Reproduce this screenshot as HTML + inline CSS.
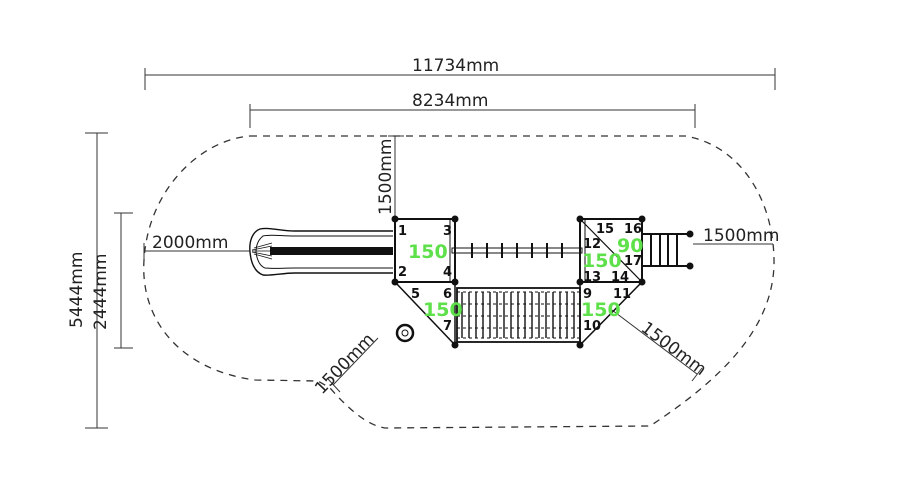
<!DOCTYPE html>
<html><head><style>html,body{margin:0;padding:0;background:#fff}svg{display:block}text{font-family:"DejaVu Sans","Liberation Sans",sans-serif}</style></head>
<body>
<svg width="900" height="500" viewBox="0 0 900 500" xmlns="http://www.w3.org/2000/svg">
<g stroke="#333" stroke-width="1" fill="none">
<line x1="145" y1="75" x2="775" y2="75"/><line x1="145" y1="68" x2="145" y2="90"/><line x1="775" y1="68" x2="775" y2="90"/>
<line x1="250" y1="110" x2="695" y2="110"/><line x1="250" y1="104" x2="250" y2="128"/><line x1="695" y1="104" x2="695" y2="128"/>
<line x1="85" y1="133" x2="108" y2="133"/><line x1="85" y1="428" x2="108" y2="428"/><line x1="97" y1="133" x2="97" y2="428"/>
<line x1="114" y1="213" x2="133" y2="213"/><line x1="114" y1="348" x2="133" y2="348"/><line x1="121" y1="213" x2="121" y2="348"/>
<line x1="395" y1="136" x2="395" y2="218"/><line x1="388" y1="136" x2="404" y2="136"/>
<line x1="144" y1="251" x2="250" y2="251"/><line x1="144" y1="243" x2="144" y2="262"/>
<line x1="693" y1="244" x2="773" y2="244"/>
<line x1="378" y1="338" x2="333" y2="385"/><line x1="328" y1="379" x2="340" y2="392"/>
<line x1="612" y1="310" x2="697" y2="374"/><line x1="692" y1="381" x2="702" y2="368"/>
</g>
<path d="M250 136 L685 136 C740 145 775 200 774 265 C772 330 720 380 650 426 L385 428 C365 425 345 405 330 388 L318 381 L255 380 C180 370 140 320 144 260 C148 190 200 140 250 136 Z" fill="none" stroke="#333" stroke-width="1.3" stroke-dasharray="7,6"/>
<g stroke="#111" fill="none">
<path d="M393 231 L295 231 C280 231 270 227 260 229 C252 232 249 242 250 252 C251 263 255 272 263 275 C272 276 282 273 295 273 L393 273" stroke-width="1.4"/>
<path d="M393 236 L295 236 C280 236 270 234 263 236 C258 240 256 246 256 252 C257 260 260 266 265 268 C275 269 283 268 295 268 L393 268" stroke-width="1"/>
<rect x="270" y="247" width="123" height="8" fill="#111" stroke="none"/>
<path d="M252 250 L272 246 M252 252 L272 256 M252 251 L272 251 M254 248 L272 243 M254 254 L272 259" stroke-width="0.8"/>
<rect x="395" y="219" width="60" height="63" stroke-width="2"/>
<rect x="580" y="219" width="62" height="63" stroke-width="2"/>
<line x1="582" y1="221" x2="642" y2="282" stroke-width="1.2"/>
<line x1="585" y1="219" x2="585" y2="282" stroke-width="1"/>
<line x1="450" y1="219" x2="450" y2="282" stroke-width="1"/>
<path d="M395 282 L455 282 L455 345 Z" stroke-width="1.5"/>
<path d="M580 282 L642 282 L580 345 Z" stroke-width="1.5"/>
<rect x="452" y="248" width="130" height="5" stroke-width="1"/>
<g stroke-width="2"><line x1="472" y1="243" x2="472" y2="258"/><line x1="487" y1="243" x2="487" y2="258"/><line x1="502" y1="243" x2="502" y2="258"/><line x1="517" y1="243" x2="517" y2="258"/><line x1="532" y1="243" x2="532" y2="258"/><line x1="547" y1="243" x2="547" y2="258"/><line x1="562" y1="243" x2="562" y2="258"/></g>
<rect x="457" y="288" width="123" height="54" stroke-width="1.8"/>
<path d="M462 292v46M469 292v46M476 292v46M483 292v46M490 292v46M497 292v46M504 292v46M511 292v46M518 292v46M525 292v46M532 292v46M539 292v46M546 292v46M553 292v46M560 292v46M567 292v46M574 292v46" stroke-width="1.4"/>
<path d="M457 292H580M457 304H580M457 316H580M457 328H580M457 338H580" stroke-width="1" stroke-dasharray="3,3"/>
<path d="M642 234 L690 234 M642 266 L690 266 M651 234V266 M660 234V266 M668 234V266 M677 234V266" stroke-width="2"/>
<circle cx="405" cy="333" r="8" stroke-width="2.5"/><circle cx="405" cy="333" r="3" stroke-width="1"/>
</g>
<g fill="#111">
<circle cx="395" cy="219" r="3.5"/><circle cx="455" cy="219" r="3.5"/><circle cx="395" cy="282" r="3.5"/><circle cx="455" cy="282" r="3.5"/><circle cx="455" cy="345" r="3.5"/>
<circle cx="580" cy="219" r="3.5"/><circle cx="642" cy="219" r="3.5"/><circle cx="580" cy="282" r="3.5"/><circle cx="642" cy="282" r="3.5"/><circle cx="580" cy="345" r="3.5"/>
<circle cx="690" cy="234" r="3.5"/><circle cx="690" cy="266" r="3.5"/>
</g>
<g font-size="17" fill="#222">
<text x="412" y="71">11734mm</text>
<text x="412" y="106">8234mm</text>
<text x="152" y="248">2000mm</text>
<text x="703" y="241">1500mm</text>
<text transform="translate(82 328) rotate(-90)">5444mm</text>
<text transform="translate(106 330) rotate(-90)">2444mm</text>
<text transform="translate(391 215) rotate(-90)">1500mm</text>
<text transform="translate(322 395) rotate(-46)">1500mm</text>
<text transform="translate(640 330) rotate(37)">1500mm</text>
</g>
<g font-size="13" font-weight="bold" fill="#111" font-family="Liberation Sans,sans-serif">
<text x="398" y="235">1</text><text x="443" y="235">3</text><text x="398" y="276">2</text><text x="443" y="276">4</text>
<text x="411" y="298">5</text><text x="443" y="298">6</text><text x="443" y="330">7</text>
<text x="583" y="298">9</text><text x="613" y="298">11</text><text x="583" y="330">10</text>
<text x="596" y="233">15</text><text x="624" y="233">16</text><text x="583" y="248">12</text><text x="624" y="265">17</text><text x="583" y="281">13</text><text x="611" y="281">14</text>
</g>
<g font-size="19" font-weight="bold" fill="#5ee04a" font-family="Liberation Sans,sans-serif">
<text x="408" y="258">150</text><text x="423" y="316">150</text>
<text x="582" y="267">150</text><text x="617" y="252">90</text><text x="581" y="316">150</text>
</g>
</svg>
</body></html>
